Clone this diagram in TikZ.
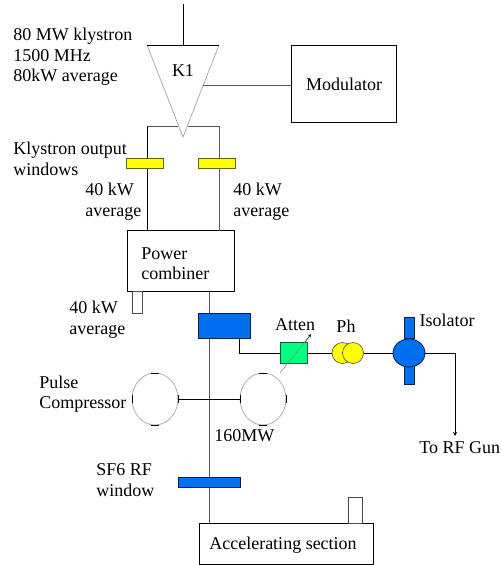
\documentclass[tikz,border=0pt]{standalone}
\usepackage{fontspec}
\setmainfont{Liberation Serif}
\usetikzlibrary{shapes.geometric}
\definecolor{winyellow}{RGB}{255,255,0}
\definecolor{rfblue}{RGB}{0,112,240}
\definecolor{attgreen}{RGB}{0,255,128}
\begin{document}
\begin{tikzpicture}[x=1pt, y=-1pt, line width=0.9pt]
	\tikzstyle{box}=[rectangle, draw=black, inner sep=0pt, outer sep=0pt]
	\tikzstyle{lefttext}=[inner sep=0pt, align=left, anchor=west, font=\fontsize{18}{20.5}\selectfont]
	\tikzstyle{midtext}=[inner sep=0pt, font=\fontsize{18}{20.5}\selectfont]
	\tikzstyle{yellowwin}=[box, fill=winyellow, draw=black!60!winyellow, minimum width=37pt, minimum height=10pt]
	\tikzstyle{bluepart}=[box, fill=rfblue, draw=black!70!rfblue]
	\tikzstyle{cavity}=[ellipse, draw=black!45, line width=0.5pt, inner sep=0pt, outer sep=0pt, minimum width=46pt, minimum height=52pt]
	\tikzstyle{rim}=[draw=black, line width=1pt]
	\tikzstyle{wire}=[draw=black!65]
	\tikzstyle{phase}=[ellipse, fill=winyellow, draw=black!80, line width=0.5pt, inner sep=0pt, outer sep=0pt, minimum width=21pt, minimum height=21pt]
	\useasboundingbox (0, 0) rectangle (501, 565);

	% klystron
	\coordinate (top) at (183, 4);
	\coordinate (kl) at (147, 45);
	\coordinate (kr) at (219, 45);
	\coordinate (kt) at (183, 45);
	\coordinate (kb) at (183, 137);
	\coordinate (kside) at (203, 85);
	\coordinate (bl) at (178, 126);
	\coordinate (br) at (188, 126);
	\coordinate (cl) at (147, 126);
	\coordinate (cr) at (219, 126);
	\draw [black!40, line width=0.6pt] (kl) -- (kb) -- (kr);
	\draw (kl) -- (kr);
	\draw (top) -- (kt);
	\draw node [midtext] at (183, 71) (k1) {K1};

	\draw node [box, minimum width=105pt, minimum height=77pt] at (343.5, 83.5) (modulator) {};
	\draw node [midtext] at (344, 84) (modtext) {Modulator};
	\draw [wire] (kside) -- (kside -| modulator.west);

	% combiner
	\draw node [box, minimum width=107pt, minimum height=61pt] at (181, 261) (combiner) {};
	\draw node [lefttext] at (141, 263.5) (combtext) {Power\\combiner};
	\coordinate (cbl) at (147, 231);
	\coordinate (cbr) at (219, 231);
	\draw [wire] (bl) -- (cl);
	\draw (cl) -- (cbl);
	\draw [wire] (br) -- (cr) -- (cbr);
	\draw node [yellowwin] at (144.5, 163) (win1) {};
	\draw node [yellowwin] at (216.5, 163) (win2) {};

	\draw node [box, draw=black!70, minimum width=10pt, minimum height=22pt, anchor=north] at (137, 291.5) (load1) {};

	% main line
	\coordinate (mt) at (209, 292);
	\coordinate (mb) at (209, 523);
	\draw [wire] (mt) -- (mb);

	\draw node [bluepart, minimum width=52pt, minimum height=25pt] at (224, 325.5) (coupler) {};
	\draw node [bluepart, minimum width=62pt, minimum height=10pt] at (209, 482) (rfwin) {};
	\draw node [box, minimum width=174pt, minimum height=41pt] at (286, 543.5) (section) {};
	\draw node [midtext] at (283, 545) (sectext) {Accelerating section};
	\draw node [box, draw=black!70, minimum width=14pt, minimum height=26pt, anchor=south] at (355, 523) (load2) {};

	% pulse compressor
	\draw node [cavity] at (155, 399) (cav1) {};
	\draw node [cavity] at (263, 399) (cav2) {};
	\draw (cav1.east) -- (cav2.west);
	\draw [rim] (cav1.north) ++(-4, 0) -- ++(8, 0);
	\draw [rim] (cav1.south) ++(-4, 0) -- ++(8, 0);
	\draw [rim] (cav1.west) ++(0, -4) -- ++(0, 8);
	\draw [rim] (cav1.east) ++(0, -4) -- ++(0, 8);
	\draw [rim] (cav2.north) ++(-4, 0) -- ++(8, 0);
	\draw [rim] (cav2.south) ++(-4, 0) -- ++(8, 0);
	\draw [rim] (cav2.west) ++(0, -4) -- ++(0, 8);
	\draw [rim] (cav2.east) ++(0, -4) -- ++(0, 8);

	% branch to the gun
	\coordinate (cp) at (239, 338);
	\coordinate (cpb) at (239, 353);
	\coordinate (gunb) at (455, 353);
	\coordinate (gun) at (455, 436);
	\coordinate (attin) at (280, 373);
	\coordinate (attmid) at (305, 342);
	\coordinate (attout) at (311, 334);
	\draw node [box, fill=attgreen, draw=black!60!attgreen, minimum width=27pt, minimum height=21pt] at (293.5, 353) (atten) {};
	\draw node [phase] at (342.5, 353) (ph1) {};
	\draw node [phase] at (353, 353) (ph2) {};
	\draw node [bluepart, minimum width=10pt, minimum height=21pt] at (409, 327.5) (iso1) {};
	\draw node [bluepart, minimum width=10pt, minimum height=21pt] at (409, 373.5) (iso2) {};
	\draw node [ellipse, fill=rfblue, draw=black!60!rfblue, inner sep=0pt, outer sep=0pt, minimum width=32pt, minimum height=28pt] at (409, 353) (iso) {};
	\draw (cp) -- (cpb) -- (atten.west);
	\draw (atten.east) -- (ph1.west);
	\draw (ph2.east) -- (iso.west);
	\draw [->, >=stealth] (iso.east) -- (gunb) -- (gun);
	\draw [black!50, line width=0.5pt] (attin) -- (attmid);
	\draw [->, >=stealth, line width=0.5pt] (attmid) -- (attout);

	% text
	\draw node [lefttext] at (13, 57) (kltext) {80 MW klystron\\1500 MHz\\80kW average};
	\draw node [lefttext] at (13, 159) (wintext) {Klystron output\\windows};
	\draw node [lefttext] at (85, 201.5) (avg1) {40 kW\\average};
	\draw node [lefttext] at (233, 201.5) (avg2) {40 kW\\average};
	\draw node [lefttext] at (69, 319.5) (avg3) {40 kW\\average};
	\draw node [midtext] at (295, 325) (attext) {Atten};
	\draw node [midtext] at (346, 326) (phtext) {Ph};
	\draw node [midtext] at (447, 320) (isotext) {Isolator};
	\draw node [lefttext] at (39, 394) (pctext) {Pulse\\Compressor};
	\draw node [lefttext] at (214, 436) (mwtext) {160MW};
	\draw node [lefttext] at (419, 447.5) (guntext) {To RF Gun};
	\draw node [lefttext] at (96, 480) (sftext) {SF6 RF\\window};
\end{tikzpicture}
\end{document}
